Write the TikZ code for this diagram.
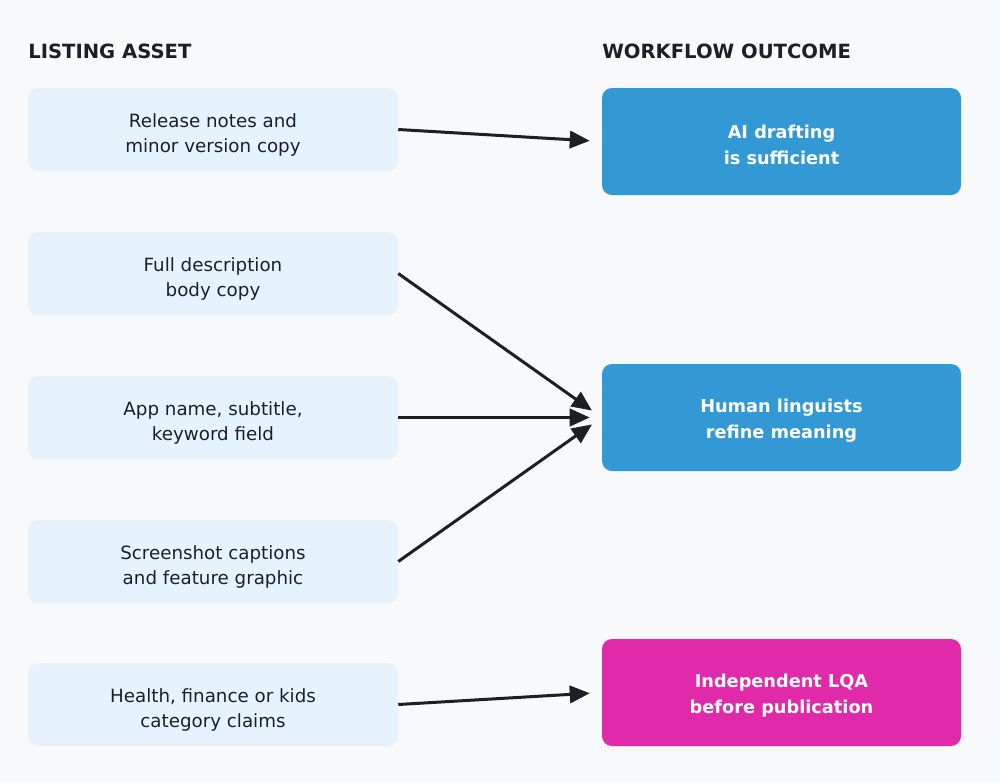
\documentclass[tikz,border=0pt]{standalone}
\usepackage{fontspec}
\setmainfont{DejaVu Sans}
\usetikzlibrary{arrows.meta}
\definecolor{bg}{HTML}{F8F9FA}
\definecolor{lbox}{HTML}{E6F3FD}
\definecolor{bluebox}{HTML}{3399D5}
\definecolor{magbox}{HTML}{E02AA9}
\definecolor{ink}{HTML}{1B2026}
\tikzset{
  leftbox/.style={fill=lbox, rounded corners=7.5pt, minimum width=277.5pt, minimum height=62.25pt, inner sep=0pt},
  lefttext/.style={inner sep=0pt, align=center, text=ink, font=\fontsize{13.7}{18.75}\selectfont},
  rightbox/.style={rounded corners=7.5pt, minimum width=269.25pt, minimum height=80.25pt, inner sep=0pt},
  righttext/.style={inner sep=0pt, align=center, text=white, font=\bfseries\fontsize{13.3}{19.5}\selectfont},
  header/.style={anchor=base west, inner sep=0pt, text=ink, font=\bfseries\fontsize{14.7}{18}\selectfont},
  arr/.style={draw=ink, line width=2.25pt, shorten >=9pt, -{Triangle[length=15pt,width=13pt]}}
}
\begin{document}
\begin{tikzpicture}[x=0.75pt,y=-0.75pt]
\fill[bg] (0,0) rectangle (1000,783);
\useasboundingbox (0,0) rectangle (1000,783);
\node[header] (h1) at (28,58) {LISTING ASSET};
\node[header] (h2) at (602,58) {WORKFLOW OUTCOME};
\node[leftbox] (l1) at (213,129.5) {};
\node[leftbox] (l2) at (213,273.5) {};
\node[leftbox] (l3) at (213,417.5) {};
\node[leftbox] (l4) at (213,561.5) {};
\node[leftbox] (l5) at (213,704.5) {};
\node[lefttext] (l1t) at ([yshift=-3.75pt]l1.center) {Release notes and\\minor version copy};
\node[lefttext] (l2t) at ([yshift=-3.75pt]l2.center) {Full description\\body copy};
\node[lefttext] (l3t) at ([yshift=-3.75pt]l3.center) {App name, subtitle,\\keyword field};
\node[lefttext] (l4t) at ([yshift=-3.75pt]l4.center) {Screenshot captions\\and feature graphic};
\node[lefttext] (l5t) at ([yshift=-3.75pt]l5.center) {Health, finance or kids\\category claims};
\node[rightbox, fill=bluebox] (r1) at (781.5,141.5) {};
\node[rightbox, fill=bluebox] (r2) at (781.5,417.5) {};
\node[rightbox, fill=magbox] (r3) at (781.5,692.5) {};
\node[righttext] (r1t) at ([yshift=-2.25pt]r1.center) {AI drafting\\is sufficient};
\node[righttext] (r2t) at ([yshift=-2.25pt]r2.center) {Human linguists\\refine meaning};
\node[righttext] (r3t) at ([yshift=-2.25pt]r3.center) {Independent LQA\\before publication};
\draw[arr] (l1.east) -- (r1.west);
\draw[arr] (l2.east) -- (r2.west);
\draw[arr] (l3.east) -- (r2.west);
\draw[arr] (l4.east) -- (r2.west);
\draw[arr] (l5.east) -- (r3.west);
\end{tikzpicture}
\end{document}
